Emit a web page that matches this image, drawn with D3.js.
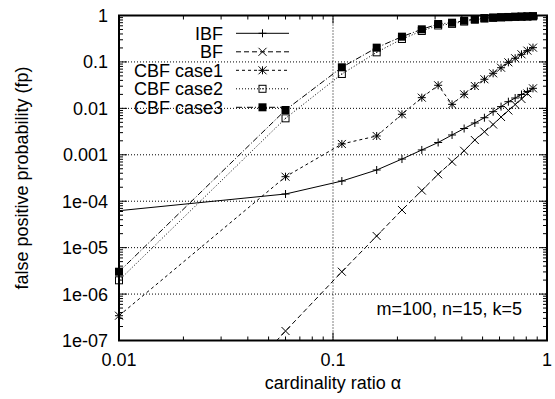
<!DOCTYPE html>
<html>
<head>
<meta charset="utf-8">
<script src="https://cdn.jsdelivr.net/npm/d3@7/dist/d3.min.js"></script>
<style>
  body { margin: 0; background: #fff; }
  svg { display: block; font-family: "Liberation Sans", Arial, sans-serif; }
</style>
</head>
<body>
<div id="chart"></div>
<script>
// cardinality ratio values (x)
const alphas = [0.01, 0.06, 0.11, 0.16, 0.21, 0.26, 0.31, 0.36, 0.41, 0.46, 0.51, 0.56, 0.61, 0.66, 0.71, 0.76, 0.81, 0.86];

// false positive probabilities
const ibf = [6.25e-5, 1.43e-4, 2.72e-4, 4.7e-4, 8.1e-4, 1.27e-3, 1.84e-3, 2.67e-3, 3.68e-3, 4.84e-3, 6.29e-3, 8.48e-3, 1.09e-2, 1.39e-2, 1.67e-2, 1.99e-2, 2.31e-2, 2.7e-2];
const bf = [2e-11, 1.6e-7, 3.03e-6, 1.78e-5, 6.47e-5, 1.7e-4, 3.8e-4, 7.1e-4, 1.22e-3, 2.08e-3, 3.14e-3, 4.49e-3, 6.51e-3, 9.0e-3, 1.21e-2, 1.59e-2, 2.09e-2, 2.7e-2];
const cbf1 = [3.42e-7, 3.37e-4, 1.71e-3, 2.54e-3, 7.45e-3, 1.7e-2, 3.14e-2, 1.22e-2, 2.01e-2, 3.03e-2, 4.23e-2, 5.69e-2, 7.5e-2, 9.8e-2, 0.12, 0.146, 0.175, 0.203];
const cbf2 = [1.98e-6, 6.1e-3, 5.5e-2, 0.161, 0.312, 0.464, 0.61, 0.66, 0.74, 0.81, 0.86, 0.89, 0.91, 0.92, 0.935, 0.944, 0.952, 0.963];
const cbf3 = [3.03e-6, 9.22e-3, 7.66e-2, 0.203, 0.35, 0.504, 0.656, 0.70, 0.773, 0.84, 0.88, 0.905, 0.92, 0.93, 0.94, 0.947, 0.956, 0.966];

const seriesNames = ['IBF', 'BF', 'CBF case1', 'CBF case2', 'CBF case3'];
const xTickValues = [0.01, 0.1, 1];
const xTickLabels = ['0.01', '0.1', '1'];
const yTickValues = [1, 0.1, 0.01, 0.001, 1e-4, 1e-5, 1e-6, 1e-7];
const yTickLabels = ['1', '0.1', '0.01', '0.001', '1e-04', '1e-05', '1e-06', '1e-07'];

const width = 555, height = 399;
const margin = { top: 15.5, right: 8, bottom: 58.5, left: 119 };
const innerWidth = width - margin.left - margin.right;
const innerHeight = height - margin.top - margin.bottom;
const fontSize = 18;

const x = d3.scaleLog().domain([0.01, 1]).range([0, innerWidth]);
const y = d3.scaleLog().domain([1e-7, 1]).range([innerHeight, 0]);

const series = [
  { name: seriesNames[0], values: ibf, dash: null, marker: 'plus', skipFirst: true },
  { name: seriesNames[1], values: bf, dash: '5,3', marker: 'cross' },
  { name: seriesNames[2], values: cbf1, dash: '3,3', marker: 'star' },
  { name: seriesNames[3], values: cbf2, dash: '1,2', marker: 'box' },
  { name: seriesNames[4], values: cbf3, dash: '6,2,1,2', marker: 'fbox' },
];

const svg = d3.select('#chart').append('svg').attr('width', width).attr('height', height);
svg.append('rect').attr('width', width).attr('height', height).attr('fill', '#fff');
const g = svg.append('g').attr('transform', `translate(${margin.left},${margin.top})`);

svg.append('defs').append('clipPath').attr('id', 'plot-clip')
  .append('rect').attr('width', innerWidth).attr('height', innerHeight);

// grid
g.append('g').selectAll('line').data(yTickValues.slice(1, -1)).enter().append('line')
  .attr('x1', 0).attr('x2', innerWidth).attr('y1', d => y(d)).attr('y2', d => y(d))
  .attr('stroke', '#000').attr('stroke-width', 1).attr('stroke-dasharray', '1,2');
g.append('line')
  .attr('x1', x(0.1)).attr('x2', x(0.1)).attr('y1', 0).attr('y2', innerHeight)
  .attr('stroke', '#000').attr('stroke-width', 1).attr('stroke-dasharray', '1,2');

// ticks (inward, mirrored)
const minorX = [], minorY = [];
[0.01, 0.1].forEach(b => d3.range(2, 10).forEach(m => minorX.push(b * m)));
[1e-7, 1e-6, 1e-5, 1e-4, 1e-3, 1e-2, 1e-1].forEach(b => d3.range(2, 10).forEach(m => minorY.push(b * m)));
const ticks = g.append('g').attr('stroke', '#000').attr('stroke-width', 1);
const tickX = (vals, len) => vals.forEach(v => {
  ticks.append('line').attr('x1', x(v)).attr('x2', x(v)).attr('y1', innerHeight).attr('y2', innerHeight - len);
  ticks.append('line').attr('x1', x(v)).attr('x2', x(v)).attr('y1', 0).attr('y2', len);
});
const tickY = (vals, len) => vals.forEach(v => {
  ticks.append('line').attr('x1', 0).attr('x2', len).attr('y1', y(v)).attr('y2', y(v));
  ticks.append('line').attr('x1', innerWidth).attr('x2', innerWidth - len).attr('y1', y(v)).attr('y2', y(v));
});
tickX(xTickValues, 8); tickX(minorX, 4);
tickY(yTickValues, 8); tickY(minorY, 4);

// tick labels
g.append('g').selectAll('text').data(xTickValues).enter().append('text')
  .attr('x', d => x(d)).attr('y', innerHeight + 25.5).attr('text-anchor', 'middle')
  .attr('font-size', fontSize).text((d, i) => xTickLabels[i]);
g.append('g').selectAll('text').data(yTickValues).enter().append('text')
  .attr('x', -11).attr('y', d => y(d)).attr('dy', '0.36em').attr('text-anchor', 'end')
  .attr('font-size', fontSize).text((d, i) => yTickLabels[i]);

// data lines
const line = d3.line().x(d => x(d[0])).y(d => y(d[1]));
const plot = g.append('g').attr('clip-path', 'url(#plot-clip)');
series.forEach(s => {
  plot.append('path').datum(alphas.map((a, i) => [a, s.values[i]]))
    .attr('d', line).attr('fill', 'none').attr('stroke', '#000').attr('stroke-width', 1)
    .attr('stroke-dasharray', s.dash);
});

function drawMarker(sel, type, cx, cy) {
  const r = 4;
  const p = sel.append('g').attr('transform', `translate(${cx},${cy})`).attr('stroke', '#000').attr('stroke-width', 1).attr('fill', 'none');
  if (type === 'plus' || type === 'star') {
    p.append('path').attr('d', `M${-r},0H${r}M0,${-r}V${r}`);
  }
  if (type === 'cross' || type === 'star') {
    p.append('path').attr('d', `M${-r},${-r}L${r},${r}M${-r},${r}L${r},${-r}`);
  }
  if (type === 'box') {
    p.append('rect').attr('x', -r + 0.5).attr('y', -r + 0.5).attr('width', 2 * r - 1).attr('height', 2 * r - 1);
    p.append('rect').attr('x', -0.5).attr('y', -0.5).attr('width', 1).attr('height', 1).attr('fill', '#000').attr('stroke', 'none');
  }
  if (type === 'fbox') {
    p.append('rect').attr('x', -r).attr('y', -r).attr('width', 2 * r).attr('height', 2 * r).attr('fill', '#000').attr('stroke', 'none');
  }
}

series.forEach(s => {
  alphas.forEach((a, i) => {
    if (s.skipFirst && i === 0) return; // no marker at the left edge for IBF
    const py = y(s.values[i]);
    if (py > innerHeight + 1) return;
    drawMarker(g, s.marker, x(a), py);
  });
});

// border
g.append('rect').attr('width', innerWidth).attr('height', innerHeight)
  .attr('fill', 'none').attr('stroke', '#000').attr('stroke-width', 2);

// legend
const legend = svg.append('g');
const legendY = [33.3, 51.8, 70.3, 88.8, 107.3];
series.forEach((s, i) => {
  const ly = legendY[i];
  legend.append('text').attr('x', 223).attr('y', ly).attr('dy', '0.36em').attr('text-anchor', 'end')
    .attr('font-size', fontSize).text(s.name);
  legend.append('line').attr('x1', 236).attr('x2', 289).attr('y1', ly).attr('y2', ly)
    .attr('stroke', '#000').attr('stroke-width', 1).attr('stroke-dasharray', s.dash);
  drawMarker(legend, s.marker, 262.5, ly);
});

// annotation
svg.append('text').attr('x', 522).attr('y', 315).attr('text-anchor', 'end')
  .attr('font-size', fontSize).text('m=100, n=15, k=5');

// axis titles
svg.append('text').attr('x', margin.left + innerWidth / 2).attr('y', 389).attr('text-anchor', 'middle')
  .attr('font-size', fontSize).text('cardinality ratio α');
svg.append('text').attr('transform', `translate(28,${margin.top + innerHeight / 2}) rotate(-90)`)
  .attr('text-anchor', 'middle').attr('font-size', fontSize).text('false positive probability (fp)');
</script>
</body>
</html>
